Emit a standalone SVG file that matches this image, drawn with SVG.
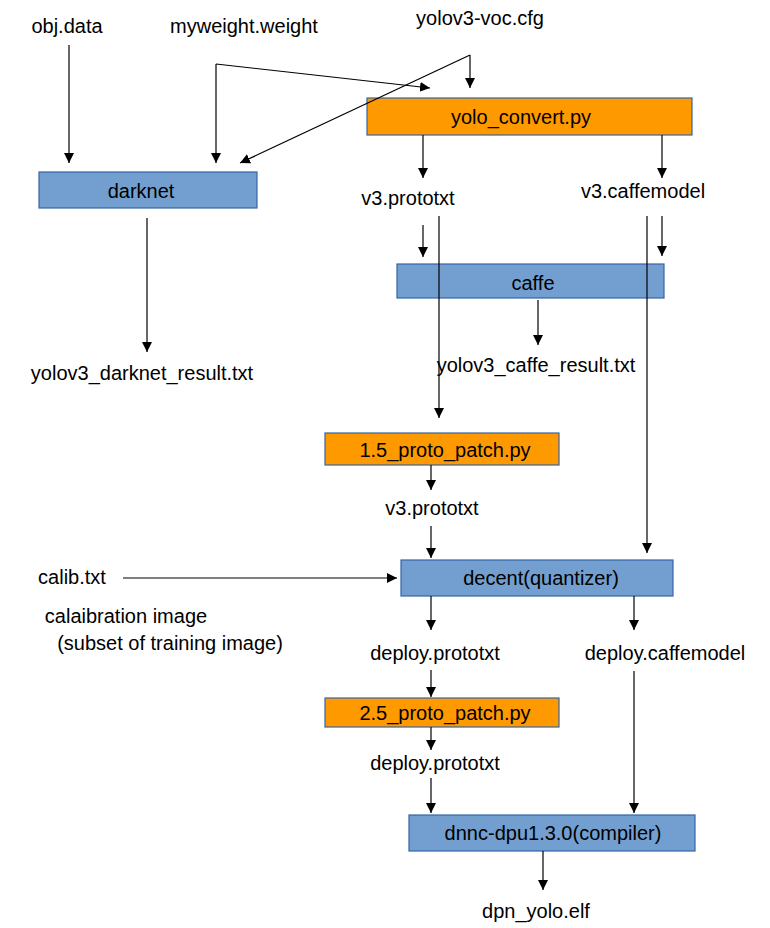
<svg xmlns="http://www.w3.org/2000/svg" width="770" height="928" viewBox="0 0 770 928">
<style>
text{font-family:"Liberation Sans",Arial,sans-serif;font-size:20px;fill:#000;text-anchor:middle}
.o{fill:#ff9900;stroke:#3465a4;stroke-width:1.2}
.b{fill:#729fcf;stroke:#3465a4;stroke-width:1.2}
.c line,.c path{stroke:#000;stroke-width:1.2;fill:none}
.a{marker-end:url(#ar)}
</style>
<defs><marker id="ar" markerWidth="10" markerHeight="20" refX="10" refY="5" orient="auto" markerUnits="userSpaceOnUse" viewBox="0 0 10 10"><path d="M0,0 L10,5 L0,10 z" fill="#000"/></marker></defs>
<rect width="770" height="928" fill="#fff"/>
<g id="n-yolo"><rect class="o" x="367" y="98" width="325" height="37"/><text x="521" y="124">yolo_convert.py</text></g>
<g id="n-darknet"><rect class="b" x="39" y="172" width="218" height="36"/><text x="141" y="198">darknet</text></g>
<g id="n-caffe"><rect class="b" x="397" y="264" width="267" height="34"/><text x="533" y="290">caffe</text></g>
<g id="n-p15"><rect class="o" x="325" y="433" width="234" height="32"/><text x="445" y="457">1.5_proto_patch.py</text></g>
<g id="n-decent"><rect class="b" x="401" y="560" width="272" height="36"/><text x="541" y="585">decent(quantizer)</text></g>
<g id="n-p25"><rect class="o" x="325" y="698" width="234" height="29"/><text x="445" y="720">2.5_proto_patch.py</text></g>
<g id="n-dnnc"><rect class="b" x="409" y="815" width="286" height="36"/><text x="553" y="840">dnnc-dpu1.3.0(compiler)</text></g>
<g id="labels">
<text x="67" y="33">obj.data</text>
<text x="244" y="33">myweight.weight</text>
<text x="480" y="25">yolov3-voc.cfg</text>
<text x="408" y="205">v3.prototxt</text>
<text x="643" y="198">v3.caffemodel</text>
<text x="142" y="380">yolov3_darknet_result.txt</text>
<text x="536" y="372">yolov3_caffe_result.txt</text>
<text x="432" y="515">v3.prototxt</text>
<text x="72" y="584">calib.txt</text>
<text x="126" y="623">calaibration image</text>
<text x="170" y="650"> (subset of training image)</text>
<text x="435" y="660">deploy.prototxt</text>
<text x="665" y="660">deploy.caffemodel</text>
<text x="435" y="770">deploy.prototxt</text>
<text x="536" y="918">dpn_yolo.elf</text>
</g>
<g id="connectors" class="c">
<line class="a" x1="69" y1="45" x2="69" y2="163"/>
<line class="a" x1="216" y1="64" x2="216" y2="163"/>
<line class="a" x1="216" y1="64" x2="430" y2="88"/>
<line class="a" x1="470" y1="55" x2="470" y2="88"/>
<line class="a" x1="470" y1="55" x2="240" y2="163"/>
<line class="a" x1="423" y1="135" x2="423" y2="178"/>
<line class="a" x1="662" y1="135" x2="662" y2="178"/>
<line class="a" x1="423" y1="225" x2="423" y2="257"/>
<line class="a" x1="662" y1="216" x2="662" y2="256"/>
<line class="a" x1="439" y1="216" x2="439" y2="418"/>
<line class="a" x1="647" y1="216" x2="647" y2="553"/>
<line class="a" x1="147" y1="218" x2="147" y2="352"/>
<line class="a" x1="538" y1="300" x2="538" y2="345"/>
<line class="a" x1="431" y1="465" x2="431" y2="490"/>
<line class="a" x1="431" y1="526" x2="431" y2="558"/>
<line class="a" x1="123" y1="578" x2="397" y2="578"/>
<line class="a" x1="431" y1="596" x2="431" y2="630"/>
<line class="a" x1="634" y1="596" x2="634" y2="630"/>
<line class="a" x1="431" y1="670" x2="431" y2="697"/>
<line class="a" x1="431" y1="727" x2="431" y2="750"/>
<line class="a" x1="431" y1="778" x2="431" y2="813"/>
<line class="a" x1="634" y1="671" x2="634" y2="813"/>
<line class="a" x1="543" y1="851" x2="543" y2="890"/>
</g>
</svg>
